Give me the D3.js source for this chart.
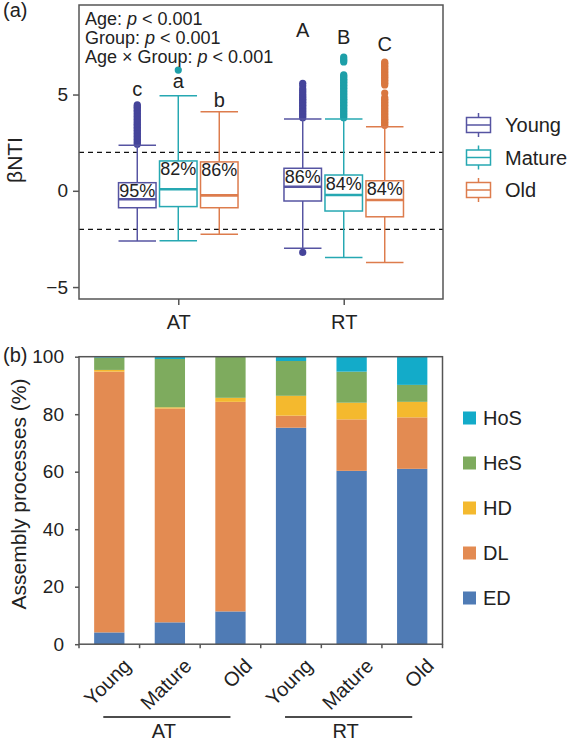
<!DOCTYPE html>
<html><head><meta charset="utf-8">
<script src="https://cdn.jsdelivr.net/npm/d3@7"></script>
<style>body{margin:0;background:#fff}svg{display:block}text{font-family:"Liberation Sans",Arial,sans-serif;fill:#222}</style>
</head><body><svg id="c" width="570" height="742"></svg>
<script>
// ---------- Panel (a) data ----------
const groupsA = ["AT", "RT"];
const ages = ["Young", "Mature", "Old"];
const ageColors = ["#5654a2", "#26a8b2", "#dd7c4d"];
const dotColors = ["#45449a", "#1d9fa8", "#d9773f"];
// per group, per age: [lowerWhisker, q1, median, q3, upperWhisker]
const statsAT = [[-2.61, -0.88, -0.44, 0.42, 2.36], [-2.59, -0.82, 0.08, 1.55, 4.94], [-2.26, -0.88, -0.24, 1.50, 4.11]];
const statsRT = [[-2.99, -0.53, 0.21, 1.17, 3.73], [-3.47, -1.05, -0.22, 0.82, 3.73], [-3.73, -1.35, -0.48, 0.52, 3.33]];
const outliersAT = [
  [2.42,2.5,2.58,2.66,2.74,2.82,2.9,2.98,3.06,3.14,3.22,3.3,3.38,3.46,3.54,3.62,3.7,3.78,3.86,3.94,4.02,4.1,4.18,4.26,4.34,4.4,4.46],
  [6.27],
  []
];
const outliersRT = [
  [-3.2,3.8,3.88,3.96,4.04,4.12,4.2,4.28,4.36,4.44,4.52,4.6,4.68,4.76,4.84,4.92,5.0,5.1,5.2,5.3,5.45,5.58],
  [3.8,3.88,3.96,4.04,4.12,4.2,4.28,4.36,4.44,4.52,4.6,4.68,4.76,4.84,4.92,5.0,5.08,5.16,5.24,5.32,5.4,5.48,5.56,5.64,5.72,5.8,5.88,5.96,6.02,6.69,6.77,6.85,6.95],
  [3.4,3.48,3.56,3.64,3.72,3.8,3.88,3.96,4.04,4.12,4.2,4.28,4.36,4.44,4.52,4.6,4.68,4.76,4.84,5.08,5.5,5.58,5.66,5.74,5.82,5.9,5.98,6.06,6.14,6.22,6.3,6.38,6.46,6.54,6.62,6.69]
];
const pctAT = ["95%", "82%", "86%"];
const pctRT = ["86%", "84%", "84%"];
const lettersAT = ["c", "a", "b"];
const lettersRT = ["A", "B", "C"];
const letterValAT = [4.9, 5.34, 4.35];
const letterValRT = [8.0, 7.65, 7.24];
const statLines = ["Age: ", "Group: ", "Age × Group: "];
const yTicksA = [-5, 0, 5];
const refLines = [-2, 2];

// ---------- Panel (b) data ----------
const barGroups = ["AT", "AT", "AT", "RT", "RT", "RT"];
const barAges = ["Young", "Mature", "Old", "Young", "Mature", "Old"];
const processes = ["ED", "DL", "HD", "HeS", "HoS"];
const procColors = ["#4f7bb5", "#e38b52", "#f4b92e", "#7eab5e", "#13abc9"];
const ED  = [4.1, 7.6, 11.4, 75.3, 60.3, 61.0];
const DL  = [90.7, 74.4, 72.9, 4.2, 17.9, 17.9];
const HD  = [0.6, 0.4, 1.4, 6.9, 5.8, 5.4];
const HeS = [4.3, 16.8, 14.2, 12.1, 10.8, 5.9];
const HoS = [0.3, 0.8, 0.1, 1.5, 5.2, 9.8];
const yTicksB = [0, 20, 40, 60, 80, 100];

const svg = d3.select("#c");
const FF = '"Liberation Sans",Arial,sans-serif';

// ================= Panel (a) =================
const A = {l: 79, r: 443, t: 5, b: 299};
const yA = d3.scaleLinear().domain([-5.62, 9.65]).range([A.b, A.t]);
const xG = d3.scalePoint().domain(groupsA).range([A.l, A.r]).padding(0.6);
const xOff = d3.scalePoint().domain(ages).range([-41, 41]);
const boxW = 37.5;

const gA = svg.append("g");
gA.selectAll("line.ref").data(refLines).join("line")
  .attr("x1", A.l).attr("x2", A.r).attr("y1", d => yA(d)).attr("y2", d => yA(d))
  .attr("stroke", "#111").attr("stroke-width", 1.3).attr("stroke-dasharray", "5,4");

const allStats = [statsAT, statsRT];
const allOut = [outliersAT, outliersRT];
const allPct = [pctAT, pctRT];
const allLet = [lettersAT, lettersRT];
const allLetV = [letterValAT, letterValRT];

groupsA.forEach((g, gi) => {
  ages.forEach((a, ai) => {
    const s = allStats[gi][ai];
    const cx = xG(g) + xOff(a);
    const col = ageColors[ai];
    const gg = gA.append("g");
    gg.selectAll("circle").data(allOut[gi][ai]).join("circle")
      .attr("cx", cx).attr("cy", d => yA(d)).attr("r", 3.6).attr("fill", dotColors[ai]);
    gg.append("line").attr("x1", cx).attr("x2", cx).attr("y1", yA(s[0])).attr("y2", yA(s[1])).attr("stroke", col).attr("stroke-width", 1.5);
    gg.append("line").attr("x1", cx).attr("x2", cx).attr("y1", yA(s[3])).attr("y2", yA(s[4])).attr("stroke", col).attr("stroke-width", 1.5);
    [s[0], s[4]].forEach(v => gg.append("line").attr("x1", cx - boxW / 2).attr("x2", cx + boxW / 2).attr("y1", yA(v)).attr("y2", yA(v)).attr("stroke", col).attr("stroke-width", 1.5));
    gg.append("rect").attr("x", cx - boxW / 2).attr("width", boxW).attr("y", yA(s[3])).attr("height", yA(s[1]) - yA(s[3]))
      .attr("fill", "#fff").attr("stroke", col).attr("stroke-width", 1.5);
    gg.append("line").attr("x1", cx - boxW / 2).attr("x2", cx + boxW / 2).attr("y1", yA(s[2])).attr("y2", yA(s[2])).attr("stroke", col).attr("stroke-width", 2.6);
    gg.append("text").attr("x", cx).attr("y", yA(s[3]) + 14.5).attr("text-anchor", "middle")
      .style("font-size", "18px").text(allPct[gi][ai]);
    gg.append("text").attr("x", cx).attr("y", yA(allLetV[gi][ai])).attr("text-anchor", "middle")
      .style("font-size", "20px").text(allLet[gi][ai]);
  });
});

gA.append("rect").attr("x", A.l).attr("y", A.t).attr("width", A.r - A.l).attr("height", A.b - A.t)
  .attr("fill", "none").attr("stroke", "#555").attr("stroke-width", 1.5);

const axLA = gA.append("g").attr("transform", `translate(${A.l},0)`)
  .call(d3.axisLeft(yA).tickValues(yTicksA).tickSize(6).tickPadding(5).tickFormat(d => d < 0 ? "\u2212" + Math.abs(d) : d));
axLA.select(".domain").remove();
axLA.selectAll("line").attr("stroke", "#555").attr("stroke-width", 1.5);
axLA.selectAll("text").style("font-size", "19px").style("font-family", FF).attr("fill", "#222");

const axBA = gA.append("g").attr("transform", `translate(0,${A.b})`)
  .call(d3.axisBottom(xG).tickSize(6).tickPadding(10));
axBA.select(".domain").remove();
axBA.selectAll("line").attr("stroke", "#555").attr("stroke-width", 1.5);
axBA.selectAll("text").style("font-size", "20px").style("font-family", FF).attr("fill", "#222");

statLines.forEach((t, i) => {
  const tx = gA.append("text").attr("x", 85).attr("y", 25 + i * 19).style("font-size", "18px");
  tx.append("tspan").text(t);
  tx.append("tspan").style("font-style", "italic").text("p");
  tx.append("tspan").text(" < 0.001");
});

svg.append("text").attr("transform", "translate(22,160) rotate(-90)").attr("text-anchor", "middle")
  .style("font-size", "21px").text("βNTI");
svg.append("text").attr("x", 3).attr("y", 17).style("font-size", "20px").text("(a)");

ages.forEach((a, i) => {
  const cy = 125 + i * 32.5, cx = 478.5, col = ageColors[i];
  const lg = svg.append("g");
  lg.append("line").attr("x1", cx).attr("x2", cx).attr("y1", cy - 12).attr("y2", cy + 12).attr("stroke", col).attr("stroke-width", 1.5);
  lg.append("rect").attr("x", cx - 12).attr("y", cy - 7.5).attr("width", 24).attr("height", 15).attr("fill", "#fff").attr("stroke", col).attr("stroke-width", 1.5);
  lg.append("line").attr("x1", cx - 12).attr("x2", cx + 12).attr("y1", cy).attr("y2", cy).attr("stroke", col).attr("stroke-width", 1.5);
  lg.append("text").attr("x", 505).attr("y", cy).attr("dy", "0.36em").style("font-size", "20px").text(a);
});

// ================= Panel (b) =================
const B = {l: 79, r: 442.5, t: 356.7, b: 644.2};
const keys = barAges.map((a, i) => barGroups[i] + "-" + a);
const xB = d3.scaleBand().domain(keys).range([B.l, B.r]).paddingInner(0.5).paddingOuter(0.25);
const yB = d3.scaleLinear().domain([0, 100]).range([B.b, B.t]);
const series = [ED, DL, HD, HeS, HoS];
const rows = keys.map((k, i) => {
  const o = {key: k};
  processes.forEach((p, j) => o[p] = series[j][i]);
  return o;
});
const stack = d3.stack().keys(processes)(rows);
const gB = svg.append("g");
gB.selectAll("g.layer").data(stack).join("g").attr("fill", (d, i) => procColors[i])
  .selectAll("rect").data(d => d).join("rect")
  .attr("x", d => xB(d.data.key)).attr("width", xB.bandwidth())
  .attr("y", d => yB(d[1])).attr("height", d => yB(d[0]) - yB(d[1]));

gB.append("rect").attr("x", B.l).attr("y", B.t).attr("width", B.r - B.l).attr("height", B.b - B.t)
  .attr("fill", "none").attr("stroke", "#555").attr("stroke-width", 1.5);

const axLB = gB.append("g").attr("transform", `translate(${B.l},0)`)
  .call(d3.axisLeft(yB).tickValues(yTicksB).tickSize(4).tickPadding(11));
axLB.select(".domain").remove();
axLB.selectAll("line").attr("stroke", "#555").attr("stroke-width", 1.5);
axLB.selectAll("text").style("font-size", "19px").style("font-family", FF).attr("fill", "#222");

const half = xB.step() * xB.paddingInner() / 2;
const bounds = keys.map(k => xB(k) - half).concat([xB(keys[keys.length - 1]) + xB.bandwidth() + half]);
gB.selectAll("line.xt").data(bounds).join("line")
  .attr("x1", d => d).attr("x2", d => d).attr("y1", B.b).attr("y2", B.b + 4)
  .attr("stroke", "#555").attr("stroke-width", 1.5);
gB.selectAll("text.xl").data(keys).join("text")
  .attr("transform", (k, i) => `translate(${xB(k) + xB.bandwidth() / 2 + 13},${B.b + 13}) rotate(-45)`)
  .attr("text-anchor", "end").attr("dy", "0.7em").style("font-size", "20px")
  .text((k, i) => barAges[i]);
["AT", "RT"].forEach(g => {
  const ks = keys.filter((k, i) => barGroups[i] === g);
  const x1 = xB(ks[0]) + xB.bandwidth() / 2 - 6, x2 = xB(ks[ks.length - 1]) + xB.bandwidth() / 2;
  gB.append("line").attr("x1", x1).attr("x2", x2).attr("y1", 717).attr("y2", 717).attr("stroke", "#111").attr("stroke-width", 1.3);
  gB.append("text").attr("x", (x1 + x2) / 2 - 3).attr("y", 738).attr("text-anchor", "middle").style("font-size", "20px").text(g);
});

svg.append("text").attr("transform", "translate(26,494) rotate(-90)").attr("text-anchor", "middle")
  .style("font-size", "21px").text("Assembly processes (%)");
svg.append("text").attr("x", 3).attr("y", 362).style("font-size", "20px").text("(b)");

const legOrder = processes.slice().reverse();
legOrder.forEach((p, i) => {
  const cy = 418 + i * 45;
  const ci = processes.indexOf(p);
  svg.append("rect").attr("x", 463).attr("y", cy - 6.5).attr("width", 13).attr("height", 13).attr("fill", procColors[ci]);
  svg.append("text").attr("x", 483).attr("y", cy).attr("dy", "0.36em").style("font-size", "20px").text(p);
});
</script></body></html>
